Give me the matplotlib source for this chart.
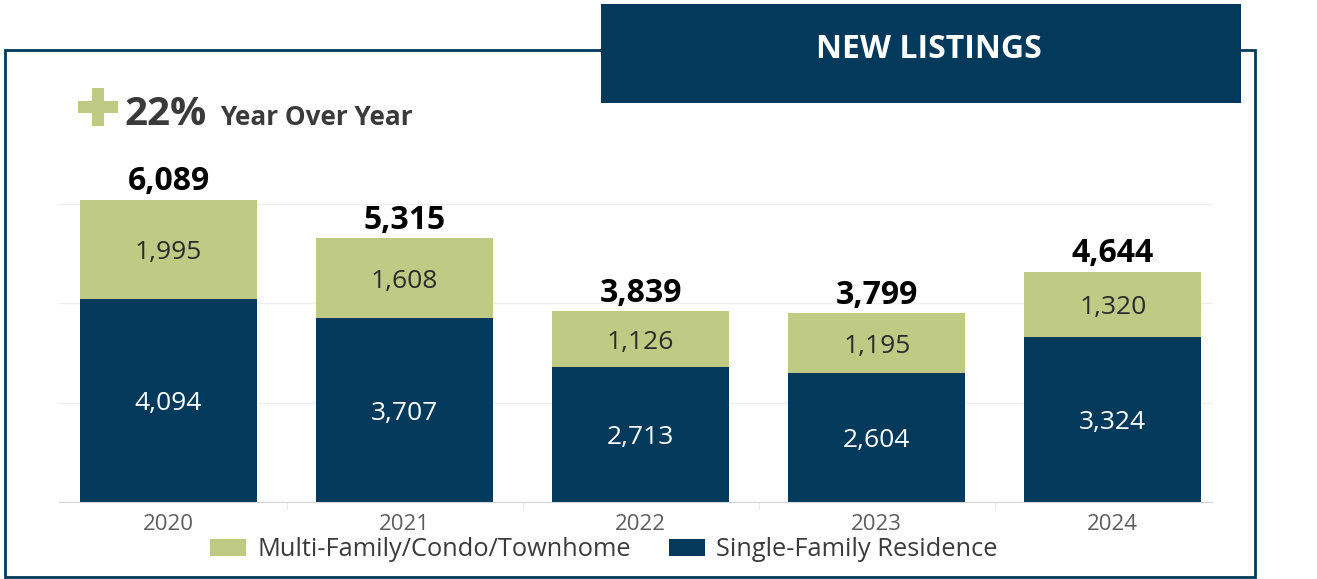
import matplotlib.pyplot as plt
from matplotlib.patches import Rectangle

years = ['2020', '2021', '2022', '2023', '2024']
single_family = [4094, 3707, 2713, 2604, 3324]
multi_family = [1995, 1608, 1126, 1195, 1320]
totals = [6089, 5315, 3839, 3799, 4644]

W, H = 1317, 579
navy = '#033a5b'
green = '#bfca85'
dark = '#3a3a3a'

plt.rcParams['font.family'] = ['Open Sans', 'DejaVu Sans']

fig = plt.figure(figsize=(W / 100, H / 100), dpi=100)


def box(x0, y0, x1, y1):
    # pixel box (from top-left) -> figure fraction [left, bottom, width, height]
    return [x0 / W, 1 - y1 / H, (x1 - x0) / W, (y1 - y0) / H]


def fy(y):
    return 1 - y / H


# outer frame and title box
fig.patches.append(Rectangle((5 / W, fy(577)), 1250 / W, 527 / H, transform=fig.transFigure,
                             fill=False, edgecolor=navy, linewidth=2, zorder=0))
fig.patches.append(Rectangle((601 / W, fy(103)), 640 / W, 99 / H, transform=fig.transFigure,
                             facecolor=navy, edgecolor='none', zorder=1))
fig.text(929 / W, fy(50), 'NEW LISTINGS', color='white', fontsize=23, fontweight='bold',
         ha='center', va='center', zorder=2)

# plus sign and year over year change
fig.patches.append(Rectangle((78 / W, fy(113)), 40 / W, 12 / H, transform=fig.transFigure,
                             facecolor=green, edgecolor='none'))
fig.patches.append(Rectangle((92 / W, fy(126)), 12 / W, 38 / H, transform=fig.transFigure,
                             facecolor=green, edgecolor='none'))
fig.text(124 / W, fy(125), '22%', color=dark, fontsize=29, fontweight='bold', va='baseline')
fig.text(220 / W, fy(125), 'Year Over Year', color=dark, fontsize=18.8, fontweight='bold',
         va='baseline')

ax = fig.add_axes(box(59, 170, 1212, 502))
x = list(range(len(years)))
ax.bar(x, single_family, width=0.75, color=navy, zorder=2, label='Single-Family Residence')
ax.bar(x, multi_family, bottom=single_family, width=0.75, color=green, zorder=2,
       label='Multi-Family/Condo/Townhome')

for i in x:
    ax.text(i, single_family[i] / 2, f'{single_family[i]:,}', color='white', fontsize=19,
            ha='center', va='center_baseline', zorder=3)
    ax.text(i, single_family[i] + multi_family[i] / 2, f'{multi_family[i]:,}', color='#2b2b2b',
            fontsize=19, ha='center', va='center_baseline', zorder=3)
    ax.annotate(f'{totals[i]:,}', (i, totals[i]), xytext=(0, 1), textcoords='offset points',
                ha='center', va='bottom', fontsize=23, fontweight='bold', color='black')

ax.set_xlim(-0.464, 4.42)
ax.set_ylim(0, 6690)
ax.set_yticks([0, 2000, 4000, 6000])
ax.yaxis.grid(True, color='#eeeeee', linewidth=1, zorder=0)
ax.set_axisbelow(True)
ax.tick_params(axis='y', left=False, labelleft=False)
ax.set_xticks(x)
ax.set_xticklabels(years)
ax.tick_params(axis='x', which='major', length=0, pad=9, labelsize=16, labelcolor='#605e5c')
ax.set_xticks([0.5, 1.5, 2.5, 3.5], minor=True)
ax.tick_params(axis='x', which='minor', length=6, color='#e6e6e6')
for s in ['top', 'right', 'left']:
    ax.spines[s].set_visible(False)
ax.spines['bottom'].set_color('#d6d6d6')

handles, labels = ax.get_legend_handles_labels()
fig.legend(handles[::-1], labels[::-1], loc='center', bbox_to_anchor=(604 / W, fy(550)),
           ncol=2, frameon=False, fontsize=18.3, labelcolor='#3b3b3b', handlelength=1.4,
           handleheight=0.65, handletextpad=0.45, columnspacing=1.5)

fig.savefig('out.png', dpi=100)
